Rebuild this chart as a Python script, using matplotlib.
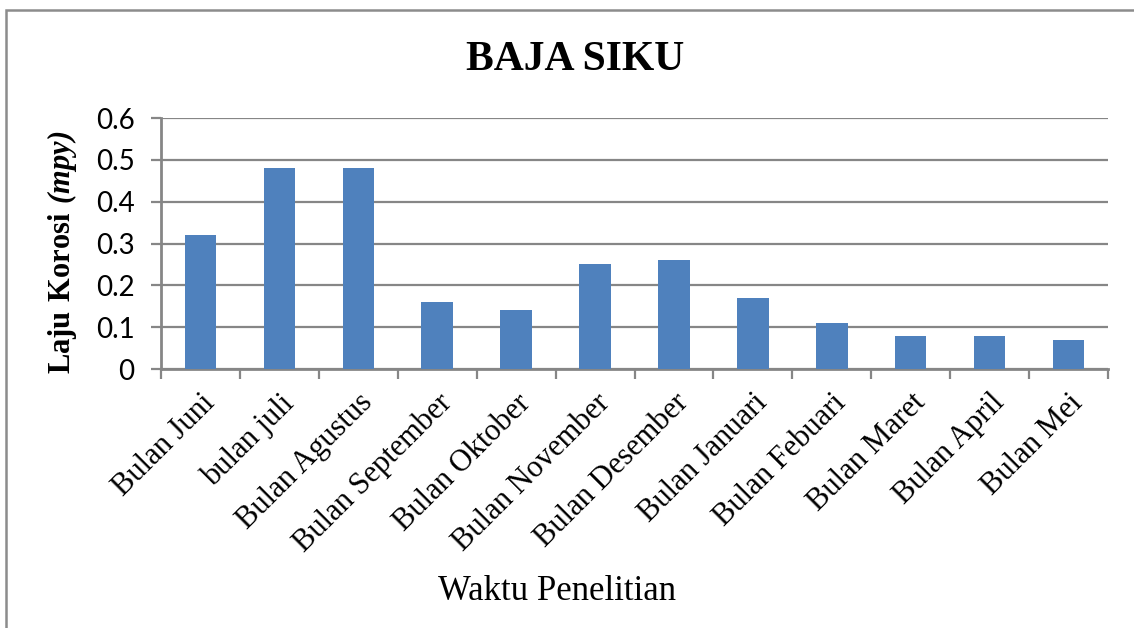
import matplotlib.pyplot as plt
from matplotlib.patches import Rectangle
from matplotlib.transforms import ScaledTranslation

bulan = ["Bulan Juni", "bulan juli", "Bulan Agustus", "Bulan September",
         "Bulan Oktober", "Bulan November", "Bulan Desember", "Bulan Januari",
         "Bulan Febuari", "Bulan Maret", "Bulan April", "Bulan Mei"]
laju = [0.32, 0.48, 0.48, 0.16, 0.14, 0.25, 0.26, 0.17, 0.11, 0.08, 0.08, 0.07]
yticks = [0, 0.1, 0.2, 0.3, 0.4, 0.5, 0.6]

plt.rcParams["mathtext.fontset"] = "custom"
plt.rcParams["mathtext.rm"] = "Liberation Serif"
plt.rcParams["mathtext.bf"] = "Liberation Serif:bold"
plt.rcParams["mathtext.bfit"] = "Liberation Serif:italic:bold"

fig = plt.figure(figsize=(11.34, 6.28), dpi=100)
ax = fig.add_axes([161/1134, 1 - 369/628, (1108 - 161)/1134, (369 - 118)/628])

# frame around the chart (only left and top visible in the original)
fig.patches.append(Rectangle((6/1134, -0.1), 1.2, 1 - 10/628 + 0.1,
                             transform=fig.transFigure, fill=False,
                             edgecolor="#8c8c8c", linewidth=1.8))

gris = "#868686"
x = list(range(len(bulan)))
ax.bar(x, laju, width=0.4, color="#4F81BD", zorder=3)

ax.set_xlim(-0.5, len(bulan) - 0.5)
ax.set_ylim(0, 0.6)
ax.set_yticks(yticks)
ax.set_yticklabels([("%g" % v) for v in yticks], fontfamily="Lato", fontsize=20)
ax.grid(axis="y", color=gris, linewidth=1.6, zorder=0)
ax.tick_params(axis="y", length=7, width=1.6, color=gris, pad=12)

ax.set_xticks(x)
ax.set_xticklabels(bulan, rotation=45, ha="right", rotation_mode="anchor",
                   fontfamily="Liberation Serif", fontsize=22)
decal = ScaledTranslation(-7/100, 0, fig.dpi_scale_trans)
for t in ax.get_xticklabels():
    t.set_transform(t.get_transform() + decal)
ax.set_xticks([i - 0.5 for i in range(len(bulan) + 1)], minor=True)
ax.tick_params(axis="x", which="major", length=0, pad=14)
ax.tick_params(axis="x", which="minor", length=7, width=1.6, color=gris)

for s in ["top", "right"]:
    ax.spines[s].set_visible(False)
for s in ["left", "bottom"]:
    ax.spines[s].set_color(gris)
    ax.spines[s].set_linewidth(2)

fig.text(575/1134, 1 - 60/628, "BAJA SIKU", ha="center", va="center",
         fontfamily="Liberation Serif", fontweight="bold", fontsize=30)
fig.text(557/1134, 1 - 592/628, "Waktu Penelitian", ha="center", va="center",
         fontfamily="Liberation Serif", fontsize=25)
fig.text(62/1134, 1 - 252/628, r"$\mathbf{Laju\ Korosi}$ $\mathbfit{(mpy)}$",
         rotation=90, ha="center", va="center", fontsize=22)

fig.savefig("out.png", dpi=100)
